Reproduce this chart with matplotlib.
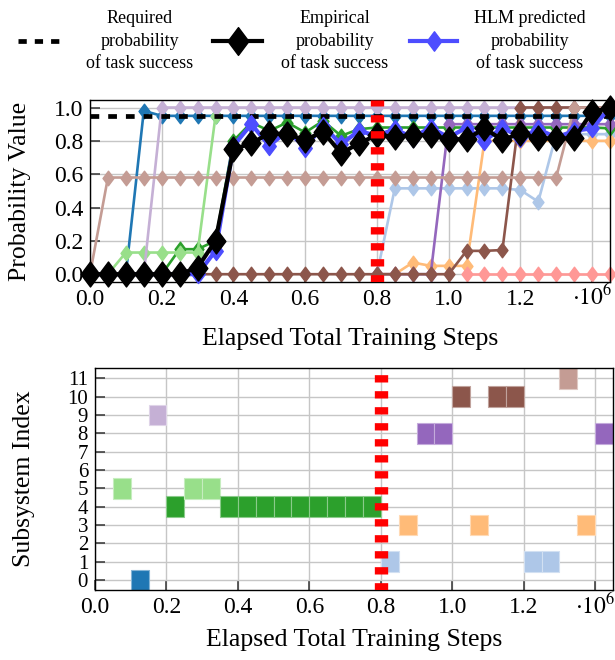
import numpy as np
import matplotlib
matplotlib.use("Agg")
import matplotlib.pyplot as plt
from matplotlib.path import Path
from matplotlib.lines import Line2D
from matplotlib.colors import to_rgb

plt.rcParams['font.family'] = ['Liberation Serif', 'DejaVu Serif']
plt.rcParams['mathtext.fontset'] = 'stix'

N = np.nan

# ---------------- data ----------------
steps = [0, 50000, 100000, 150000, 200000, 250000, 300000, 350000, 400000, 450000,
         500000, 550000, 600000, 650000, 700000, 750000, 800000, 850000, 900000, 950000,
         1000000, 1050000, 1100000, 1150000, 1200000, 1250000, 1300000, 1350000, 1400000, 1450000]

required_prob = 0.95
switch_step = 800000

# per-subsystem probability curves (tab20 colour index in name)
sub0 = [0, 0, 0, 0.98, 0.95, 0.95, 0.95, 0.95, 0.95, 0.95,
        0.95, 0.95, 0.95, 0.95, 0.95, 0.95, 0.95, 0.95, 0.95, 0.95,
        0.95, 0.95, 0.95, 0.95, 0.95, 0.95, 0.95, 0.95, 0.95, 0.95]
sub1 = [N, N, N, N, N, N, N, N, N, N,
        N, N, N, N, N, N, 0, 0.515, 0.515, 0.515,
        0.515, 0.515, 0.515, 0.515, 0.505, 0.435, 0.84, 0.84, 0.84, 0.84]
sub3 = [N, N, N, N, N, N, N, N, N, N,
        N, N, N, N, N, N, 0, 0, 0.07, 0.05,
        0.05, 0.05, 0.8, 0.8, 0.8, 0.8, 0.8, 0.8, 0.8, 0.8]
sub4 = [0, 0, 0, 0, 0, 0.15, 0.15, 0.2, 0.8, 0.91,
        0.86, 0.91, 0.85, 0.92, 0.83, 0.87, 0.88, 0.88, 0.88, 0.88,
        0.88, 0.88, 0.88, 0.88, 0.88, 0.88, 0.88, 0.88, 0.88, 0.875]
sub5 = [0, 0, 0.13, 0.13, 0.13, 0.13, 0.13, 0.95, N, N,
        N, N, N, N, N, N, N, N, N, N,
        N, N, N, N, N, N, N, N, N, N]
sub7 = [N, N, N, N, N, N, N, N, N, N,
        N, N, N, N, N, N, N, N, N, N,
        N, 0, 0, 0, 0, 0, 0, 0, 0, 0]
sub8 = [N, N, N, N, N, N, N, N, N, N,
        N, N, N, N, N, N, 0, 0, 0, 0,
        0.9, 0.9, 0.9, 0.9, 0.9, 0.9, 0.9, 0.9, 0.9, 0.9]
sub9 = [0, 0, 0, 0, 1.0, 1.0, 1.0, 1.0, 1.0, 1.0,
        1.0, 1.0, 1.0, 1.0, 1.0, 1.0, 1.0, 1.0, 1.0, 1.0,
        1.0, 1.0, 1.0, 1.0, 1.0, 1.0, 1.0, 1.0, 1.0, 1.0]
sub10 = [0, 0, 0, 0, 0, 0, 0, 0, 0, 0,
         0, 0, 0, 0, 0, 0, 0, 0, 0, 0,
         0, 0.14, 0.14, 0.145, 1.0, 1.0, 1.0, 1.0, 1.0, 1.0]
sub11 = [0, 0.58, 0.58, 0.58, 0.58, 0.58, 0.58, 0.58, 0.58, 0.58,
         0.58, 0.58, 0.58, 0.58, 0.58, 0.58, 0.58, 0.58, 0.58, 0.58,
         0.58, 0.58, 0.58, 0.58, 0.58, 0.58, 0.58, 1.0, 1.0, 1.0]

empirical = [0, 0, 0, 0, 0, 0, 0.04, 0.2, 0.75, 0.785,
             0.845, 0.84, 0.805, 0.855, 0.725, 0.785, 0.835, 0.825, 0.835, 0.835,
             0.81, 0.81, 0.875, 0.805, 0.845, 0.815, 0.815, 0.815, 0.975, 0.995]
hlm_pred = [0, 0, 0, 0, 0, 0, 0, 0.14, 0.77, 0.9,
            0.77, 0.86, 0.76, 0.89, 0.78, 0.86, 0.83, 0.87, 0.82, 0.88,
            0.82, 0.88, 0.8, 0.88, 0.82, 0.87, 0.82, 0.86, 0.875, 1.0]

# subsystem selected in each training interval (interval start step, subsystem index)
sel_start = [50000, 100000, 150000, 200000, 250000, 300000, 350000, 400000, 450000, 500000,
             550000, 600000, 650000, 700000, 750000, 800000, 850000, 900000, 950000, 1000000,
             1050000, 1100000, 1150000, 1200000, 1250000, 1300000, 1350000, 1400000]
sel_index = [5, 0, 9, 4, 5, 5, 4, 4, 4, 4,
             4, 4, 4, 4, 4, 1, 3, 8, 8, 10,
             3, 10, 10, 1, 1, 11, 3, 8]

x_ticks = [0, 200000, 400000, 600000, 800000, 1000000, 1200000, 1400000]
x_tick_labels = ['0.0', '0.2', '0.4', '0.6', '0.8', '1.0', '1.2', '']
y1_ticks = [0, 0.2, 0.4, 0.6, 0.8, 1.0]
y1_tick_labels = ['0.0', '0.2', '0.4', '0.6', '0.8', '1.0']
y2_ticks = [0, 1, 2, 3, 4, 5, 6, 7, 8, 9, 10, 11]
y2_tick_labels = ['0', '1', '2', '3', '4', '5', '6', '7', '8', '9', '10', '11']

# ---------------- figure ----------------
W, H = 615, 660
fig = plt.figure(figsize=(W / 100, H / 100), dpi=100)


def fx(x):
    return x / W


def fy(y):
    return 1 - y / H


def px_axes(l, t, r, b):
    return fig.add_axes([l / W, 1 - b / H, (r - l) / W, (b - t) / H])


ax1 = px_axes(90, 100, 610, 281.7)
ax2 = px_axes(95, 368.3, 613, 590)

tab20 = plt.get_cmap('tab20').colors
diamond = Path([(0, 1), (0.75, 0), (0, -1), (-0.75, 0), (0, 1)],
               [Path.MOVETO, Path.LINETO, Path.LINETO, Path.LINETO, Path.CLOSEPOLY])

for ax in (ax1, ax2):
    ax.set_xlim(0, 1450000)
    ax.set_xticks(x_ticks)
    ax.set_xticklabels(x_tick_labels)
    ax.grid(True, color='#c6c6c6', lw=1.0)
    ax.set_axisbelow(True)
    ax.tick_params(direction='in', length=7, width=1.1, color='#333333',
                   labelsize=17, pad=5, top=False, right=False)
    for s in ax.spines.values():
        s.set_linewidth(1.0)
        s.set_color('black')
    ax.annotate(r'$\cdot10^{6}$', xy=(1400000, 0), xycoords=('data', 'axes fraction'),
                xytext=(0, -17), textcoords='offset points', ha='center', va='baseline',
                fontsize=17)

# top plot
ax1.set_ylim(-0.045, 1.045)
ax1.set_yticks(y1_ticks)
ax1.set_yticklabels(y1_tick_labels)

for vals, ci in [(sub0, 0), (sub1, 1), (sub3, 3), (sub4, 4), (sub5, 5), (sub7, 7),
                 (sub8, 8), (sub9, 9), (sub10, 10), (sub11, 11)]:
    ax1.plot(steps, vals, color=tab20[ci], lw=1.9, marker=diamond, ms=10.5,
             mec=tab20[ci], clip_on=False, zorder=2)

ax1.axhline(required_prob, color='black', lw=3.4, dashes=(1.85, 1.9), zorder=3)
ax1.plot(steps, hlm_pred, color='#4d4dff', lw=3.0, marker=diamond, ms=13,
         clip_on=False, zorder=4)
ax1.plot(steps, empirical, color='black', lw=3.0, marker=diamond, ms=18,
         clip_on=False, zorder=5)

# bottom plot
ax2.set_ylim(-0.55, 11.55)
ax2.set_yticks(y2_ticks)
ax2.set_yticklabels(y2_tick_labels)
ax2.tick_params(axis='y', labelsize=15)
cell_colors = [tab20[i] for i in sel_index]
edge_colors = [tuple(0.55 * c + 0.45 for c in to_rgb(tab20[i])) for i in sel_index]
ax2.bar(sel_start, 1.13, width=50000, bottom=np.array(sel_index) - 0.565, align='edge',
        color=cell_colors, edgecolor=edge_colors, linewidth=0.8, zorder=2)

for ax in (ax1, ax2):
    ax.axvline(switch_step, color='#ff0000', lw=9.6, dashes=(0.55, 0.65), zorder=6)

# axis labels
fig.text(fx(20), fy(191), 'Probability Value', rotation=90, ha='center', va='center', fontsize=18.5)
fig.text(fx(24), fy(479), 'Subsystem Index', rotation=90, ha='center', va='center', fontsize=18.5)
fig.text(fx(350), fy(339), 'Elapsed Total Training Steps', ha='center', va='center', fontsize=18.5)
fig.text(fx(354), fy(640), 'Elapsed Total Training Steps', ha='center', va='center', fontsize=18.5)

# legend (manual)
ly = 41
fig.add_artist(Line2D([fx(18), fx(60)], [fy(ly), fy(ly)], color='black', lw=3.4,
                      dashes=(1.75, 1.7)))
fig.add_artist(Line2D([fx(213), fx(262)], [fy(ly), fy(ly)], color='black', lw=3.0))
fig.add_artist(Line2D([fx(237.5)], [fy(ly)], color='black', marker=diamond, ms=20, lw=0))
fig.add_artist(Line2D([fx(410), fx(457)], [fy(ly), fy(ly)], color='#4d4dff', lw=3.0))
fig.add_artist(Line2D([fx(433.5)], [fy(ly)], color='#4d4dff', marker=diamond, ms=14, lw=0))
for cx, txt in [(140, 'Required\nprobability\nof task success'),
                (335, 'Empirical\nprobability\nof task success'),
                (530, 'HLM predicted\nprobability\nof task success')]:
    fig.text(fx(cx), fy(ly), txt, ha='center', va='center', fontsize=13, linespacing=1.45)

fig.savefig('out.png', dpi=100)
